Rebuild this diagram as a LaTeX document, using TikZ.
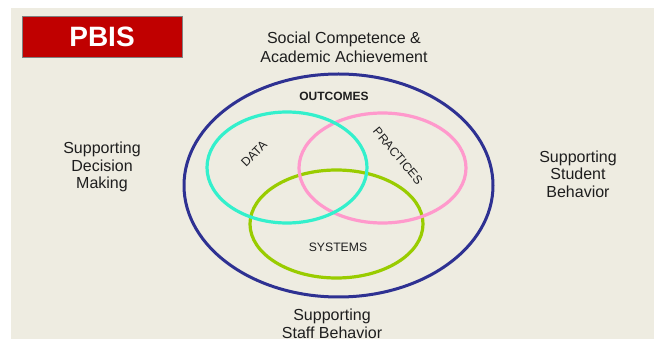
\documentclass[tikz,border=0pt]{standalone}
\usepackage{fontspec}
\setmainfont{Liberation Sans}
\usetikzlibrary{shapes.geometric}
\definecolor{bgbeige}{HTML}{EEECE1}
\definecolor{pbisred}{HTML}{C00000}
\definecolor{navy}{HTML}{2E3192}
\definecolor{turq}{HTML}{33F0CC}
\definecolor{pinkc}{HTML}{FF99CC}
\definecolor{greenc}{HTML}{99CC00}
\definecolor{txt}{HTML}{1E1E1E}
\tikzset{
  ring/.style={ellipse, draw, line width=3.2pt, inner sep=0pt, minimum width=#1},
  bigtxt/.style={text=txt, align=center, inner sep=0pt, font=\fontsize{16}{18}\selectfont},
  smalltxt/.style={text=txt, inner sep=0pt, font=\fontsize{12.2}{14}\selectfont},
}
\begin{document}
\begin{tikzpicture}[x=1pt, y=-1pt]
\useasboundingbox (0,0) rectangle (654,339);
\fill[white] (0,0) rectangle (654,339);
\fill[bgbeige] (10.5,8.5) rectangle (654,339);
% title box
\node[draw=gray, line width=0.8pt, fill=pbisred, minimum width=160pt, minimum height=41pt, inner sep=0pt,
      text=white, font=\fontsize{28}{28}\selectfont\bfseries] (pbis) at (102,36.5) {PBIS};
% rings
\node[ring=309pt, draw=navy, line width=3pt, minimum height=223pt] (outer) at (338.5,185.5) {};
\node[ring=173pt, draw=greenc, minimum height=108pt] (systems) at (336.5,224) {};
\node[ring=167pt, draw=pinkc, minimum height=110pt] (practices) at (382.5,168) {};
\node[ring=160pt, draw=turq, minimum height=111pt] (data) at (287,167.5) {};
% labels inside
\node[text=txt, inner sep=0pt, font=\fontsize{12}{14}\selectfont\bfseries] (outcomes) at (334,96) {OUTCOMES};
\node[smalltxt, rotate=45] (datalbl) at (254,154) {DATA};
\node[smalltxt, rotate=-50] (praclbl) at (398,156) {PRACTICES};
\node[smalltxt] (syslbl) at (338,247) {SYSTEMS};
% outer labels
\node[bigtxt, font=\fontsize{16}{19}\selectfont] (social) at (344,47) {Social Competence \&\\Academic Achievement};
\node[bigtxt, font=\fontsize{16}{17.5}\selectfont] (decision) at (102,167) {Supporting\\Decision\\Making};
\node[bigtxt, font=\fontsize{16}{17.5}\selectfont] (student) at (578,174) {Supporting\\Student\\Behavior};
\node[bigtxt] (staff) at (332,324) {Supporting\\Staff Behavior};
\end{tikzpicture}
\end{document}
